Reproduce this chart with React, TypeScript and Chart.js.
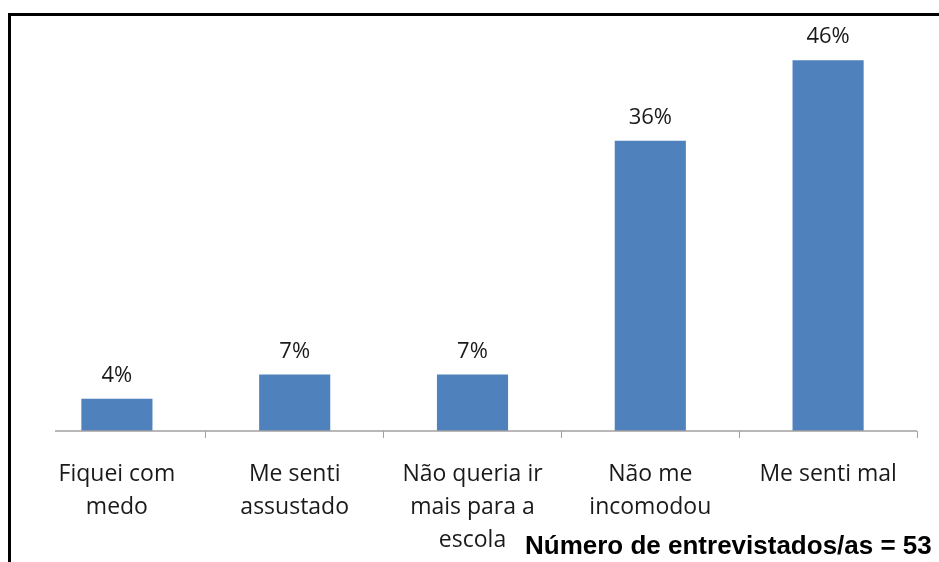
import React, { useEffect, useRef } from "react";
import { Chart, registerables } from "chart.js";

Chart.register(...registerables);

const categories: string[][] = [
  ["Fiquei com", "medo"],
  ["Me senti", "assustado"],
  ["Não queria ir", "mais para a", "escola"],
  ["Não me", "incomodou"],
  ["Me senti mal"],
];
const values: number[] = [4, 7, 7, 36, 46];
const yMin = 0;
const yMax = 50;
const footnote = "Número de entrevistados/as = 53";

const BAR_COLOR = "#4F81BD";
const AXIS_COLOR = "#a0a0a0";
const TEXT_COLOR = "#1a1a1a";
const FONT = "'Open Sans', 'Noto Sans', sans-serif";

const valueLabels = {
  id: "valueLabels",
  afterDatasetsDraw(chart: any) {
    const ctx = chart.ctx;
    const meta = chart.getDatasetMeta(0);
    ctx.save();
    ctx.fillStyle = TEXT_COLOR;
    ctx.font = `22px ${FONT}`;
    ctx.textAlign = "center";
    ctx.textBaseline = "alphabetic";
    meta.data.forEach((bar: any, i: number) => {
      ctx.fillText(`${values[i]}%`, bar.x, bar.y - 17);
    });
    ctx.restore();
  },
};

const axisLine = {
  id: "axisLine",
  afterDraw(chart: any) {
    const x = chart.scales.x;
    const ctx = chart.ctx;
    const catW = x.width / categories.length;
    ctx.save();
    ctx.strokeStyle = AXIS_COLOR;
    ctx.lineWidth = 1.5;
    ctx.beginPath();
    ctx.moveTo(x.left + catW * 0.152, chart.chartArea.bottom);
    ctx.lineTo(x.right, chart.chartArea.bottom);
    ctx.stroke();
    ctx.restore();
  },
};

export default function App() {
  const ref = useRef<HTMLCanvasElement | null>(null);

  useEffect(() => {
    if (!ref.current) return;
    const chart = new Chart(ref.current, {
      type: "bar",
      data: {
        labels: categories,
        datasets: [
          {
            data: values,
            backgroundColor: BAR_COLOR,
            borderWidth: 0,
            categoryPercentage: 1,
            barPercentage: 0.4,
          },
        ],
      },
      options: {
        responsive: false,
        animation: false,
        layout: { padding: { left: 20, right: 22, top: 20, bottom: 9 } },
        plugins: {
          legend: { display: false },
          tooltip: { enabled: false },
          title: { display: false },
        },
        scales: {
          y: { display: false, min: yMin, max: yMax },
          x: {
            offset: true,
            border: { display: false },
            grid: {
              offset: true,
              drawOnChartArea: false,
              drawTicks: true,
              tickLength: 7,
              lineWidth: 1,
              color: (c: any) => (c.index === 0 ? "rgba(0,0,0,0)" : AXIS_COLOR),
            },
            ticks: {
              color: TEXT_COLOR,
              padding: 20,
              maxRotation: 0,
              autoSkip: false,
              font: { family: FONT, size: 23, lineHeight: 33 / 23 },
            },
          },
        },
      },
      plugins: [valueLabels, axisLine],
    });
    return () => chart.destroy();
  }, []);

  return (
    <div
      style={{
        position: "absolute",
        left: 8,
        top: 8,
        width: 931,
        height: 554,
        overflow: "hidden",
        background: "#fff",
      }}
    >
      <div
        style={{
          position: "absolute",
          left: 0,
          top: 5,
          width: 2000,
          height: 2000,
          borderLeft: "3px solid #000",
          borderTop: "3px solid #000",
          boxSizing: "border-box",
        }}
      />
      <canvas
        ref={ref}
        width={931}
        height={578}
        style={{ position: "absolute", left: 0, top: 0, width: 931, height: 578 }}
      />
      <div
        style={{
          position: "absolute",
          left: 517,
          top: 524,
          fontFamily: "'Liberation Sans', Arial, sans-serif",
          fontWeight: "bold",
          fontSize: 26,
          lineHeight: "26px",
          color: "#000",
          whiteSpace: "nowrap",
        }}
      >
        {footnote}
      </div>
    </div>
  );
}
